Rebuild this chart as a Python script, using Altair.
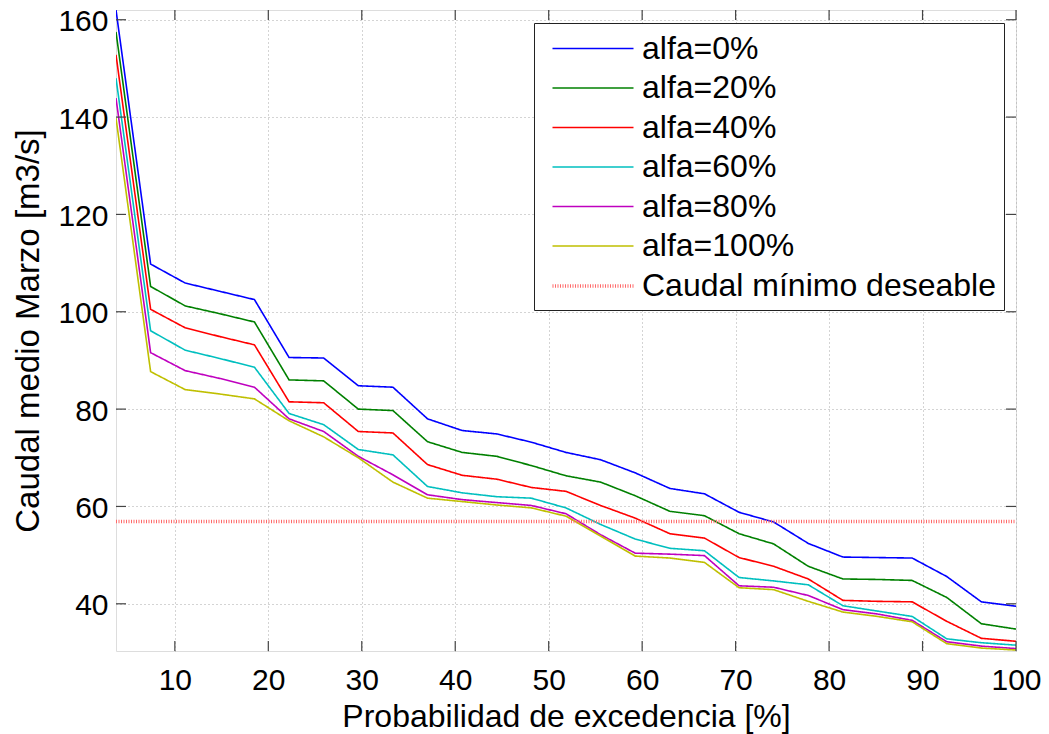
import altair as alt
import pandas as pd

# --- data ---
prob = [100 * i / 27 for i in range(1, 28)]
series_names = ["alfa=0%", "alfa=20%", "alfa=40%", "alfa=60%", "alfa=80%", "alfa=100%"]
alfa0 = [162.0, 109.8, 105.9, 104.2, 102.5, 90.6, 90.5, 84.8, 84.5, 78.0, 75.6, 74.9, 73.2, 71.1,
         69.6, 66.9, 63.7, 62.6, 58.8, 56.8, 52.4, 49.6, 49.5, 49.4, 45.6, 40.4, 39.5]
alfa20 = [157.5, 105.2, 101.2, 99.6, 97.9, 86.0, 85.8, 80.0, 79.7, 73.3, 71.1, 70.3, 68.4, 66.3,
          65.0, 62.2, 59.0, 58.1, 54.4, 52.3, 47.7, 45.1, 45.0, 44.8, 41.3, 35.9, 34.8]
alfa40 = [152.8, 100.5, 96.7, 94.9, 93.2, 81.5, 81.3, 75.4, 75.1, 68.6, 66.4, 65.6, 63.9, 63.1,
          60.2, 57.6, 54.4, 53.5, 49.5, 47.7, 45.1, 40.7, 40.5, 40.4, 36.4, 32.9, 32.3]
alfa60 = [148.0, 96.1, 92.1, 90.4, 88.6, 79.1, 76.8, 71.7, 70.6, 64.1, 62.8, 62.0, 61.7, 59.7,
          56.3, 53.3, 51.4, 50.9, 45.4, 44.7, 43.9, 39.6, 38.5, 37.4, 32.8, 32.0, 31.5]
alfa80 = [143.9, 91.6, 87.9, 86.3, 84.5, 78.0, 75.4, 70.3, 66.5, 62.4, 61.4, 60.8, 60.2, 58.5,
          54.2, 50.4, 50.2, 49.9, 43.7, 43.4, 41.7, 38.8, 37.9, 36.6, 32.2, 31.3, 30.8]
alfa100 = [139.8, 87.7, 84.0, 83.1, 82.1, 77.6, 74.3, 70.0, 65.0, 61.7, 61.0, 60.3, 59.7, 58.0,
           53.9, 49.8, 49.4, 48.5, 43.3, 42.9, 40.5, 38.3, 37.4, 36.3, 31.8, 30.9, 30.5]
threshold_name = "Caudal mínimo deseable"
threshold_value = 56.9
x_ticks = [10, 20, 30, 40, 50, 60, 70, 80, 90, 100]
y_ticks = [40, 60, 80, 100, 120, 140, 160]

colors = ["#0000ff", "#008000", "#ff0000", "#00bfbf", "#bf00bf", "#bfbf00", "#ff6a6a"]
names = series_names + [threshold_name]

rows = []
for name, vals in zip(series_names, [alfa0, alfa20, alfa40, alfa60, alfa80, alfa100]):
    for p, v in zip(prob, vals):
        rows.append({"x": p, "y": v, "serie": name})
for p in [prob[0], prob[-1]]:
    rows.append({"x": p, "y": threshold_value, "serie": threshold_name})
df = pd.DataFrame(rows)

FONT = "Liberation Sans"
W, H = 900, 641
xscale = alt.Scale(domain=[prob[0], 100], nice=False, zero=False)
yscale = alt.Scale(domain=[30.3, 162.0], nice=False, zero=False)

lines = alt.Chart(df).mark_line(clip=True).encode(
    x=alt.X("x:Q", scale=xscale,
            axis=alt.Axis(values=x_ticks, title="Probabilidad de excedencia [%]",
                          labelFlush=False, ticks=False, tickSize=0, domain=False,
                          labelFontSize=30, labelBaseline="alphabetic", labelPadding=38,
                          titleFontSize=32, titleFontWeight="normal",
                          titleBaseline="alphabetic", titleY=75,
                          grid=True, gridDash=[1, 3], gridColor="#a8a8a8", gridWidth=1)),
    y=alt.Y("y:Q", scale=yscale,
            axis=alt.Axis(values=y_ticks, title="Caudal medio Marzo [m3/s]",
                          labelFlush=False, ticks=False, tickSize=0, domain=False,
                          labelFontSize=30, labelBaseline="alphabetic", labelOffset=11,
                          labelPadding=8,
                          titleFontSize=33, titleFontWeight="normal",
                          titleBaseline="alphabetic", titleX=-78,
                          grid=True, gridDash=[1, 3], gridColor="#a8a8a8", gridWidth=1)),
    color=alt.Color("serie:N", scale=alt.Scale(domain=names, range=colors),
                    legend=alt.Legend(title=None, orient="none", legendX=418, legendY=13,
                                      symbolType="M-2.5,0H2.5", symbolSize=1050,
                                      labelFontSize=32, labelFont=FONT, labelColor="black",
                                      labelLimit=600, padding=8, rowPadding=5.5,
                                      labelOffset=31, symbolOffset=33,
                                      strokeColor="#222222", fillColor="white")),
    strokeDash=alt.StrokeDash("serie:N", scale=alt.Scale(domain=names,
                              range=[[1, 0]] * 6 + [[1, 1.5]]), legend=alt.Legend(title=None)),
    strokeWidth=alt.StrokeWidth("serie:N", scale=alt.Scale(type="ordinal", domain=names,
                                range=[1.6] * 6 + [3.5]), legend=alt.Legend(title=None)),
    order=alt.Order("x:Q"),
)

tick_color = "#444444"
tx = pd.DataFrame({"t": x_ticks})
ty = pd.DataFrame({"t": y_ticks})
tb = alt.Chart(tx).mark_rule(color=tick_color, strokeWidth=1.2).encode(
    x=alt.X("t:Q", scale=xscale), y=alt.value(H), y2=alt.value(H - 10))
tt = alt.Chart(tx).mark_rule(color=tick_color, strokeWidth=1.2).encode(
    x=alt.X("t:Q", scale=xscale), y=alt.value(0), y2=alt.value(10))
tl = alt.Chart(ty).mark_rule(color=tick_color, strokeWidth=1.2).encode(
    y=alt.Y("t:Q", scale=yscale), x=alt.value(0), x2=alt.value(10))
tr = alt.Chart(ty).mark_rule(color=tick_color, strokeWidth=1.2).encode(
    y=alt.Y("t:Q", scale=yscale), x=alt.value(W), x2=alt.value(W - 10))

chart = alt.layer(lines, tb, tt, tl, tr).properties(
    width=W, height=H,
    autosize=alt.AutoSizeParams(type="none"),
    padding={"left": 116, "top": 10, "right": 33, "bottom": 83},
).configure_view(stroke="#333333", strokeWidth=1.5).configure_axis(
    labelFont=FONT, titleFont=FONT, labelColor="black", titleColor="black",
    titleFontWeight="normal",
).configure(background="white")

chart.save("out.html", embed_options={"renderer": "svg", "actions": False})
